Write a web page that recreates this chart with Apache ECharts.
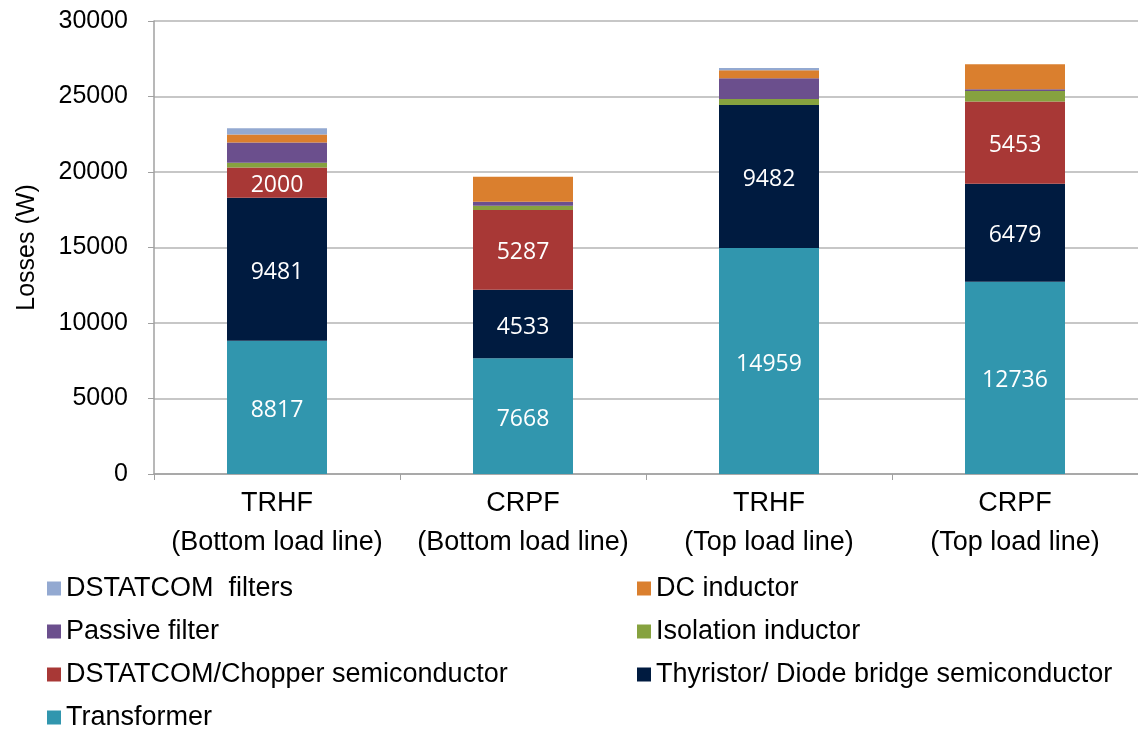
<!DOCTYPE html>
<html>
<head>
<meta charset="utf-8">
<script src="https://cdn.jsdelivr.net/npm/echarts@6/dist/echarts.min.js"></script>
<style>
  html, body { margin: 0; padding: 0; background: #fff; }
  #chart { width: 1138px; height: 731px; }
</style>
</head>
<body>
<div id="chart"></div>
<script>
var categories = [
  "TRHF\n(Bottom load line)",
  "CRPF\n(Bottom load line)",
  "TRHF\n(Top load line)",
  "CRPF\n(Top load line)"
];

var transformer = [8817, 7668, 14959, 12736];
var thyristor = [9481, 4533, 9482, 6479];
var chopper = [2000, 5287, 0, 5453];
var isolation = [310, 285, 400, 700];
var passive = [1340, 265, 1360, 115];
var dcInductor = [530, 1655, 530, 1655];
var dstatcomFilters = [425, 0, 160, 0];

var names = {
  transformer: "Transformer",
  thyristor: "Thyristor/ Diode bridge semiconductor",
  chopper: "DSTATCOM/Chopper semiconductor",
  isolation: "Isolation inductor",
  passive: "Passive filter",
  dc: "DC inductor",
  filters: "DSTATCOM  filters"
};

var colors = {
  transformer: "#3196ae",
  thyristor: "#001b40",
  chopper: "#a83836",
  isolation: "#86a23f",
  passive: "#6b4f8d",
  dc: "#da7f2e",
  filters: "#93a9d1"
};

var font = "Liberation Sans, Arial, sans-serif";

var labelOpt = {
  show: true,
  position: "inside",
  offset: [0, 3],
  color: "#fff",
  fontFamily: "Open Sans, sans-serif",
  fontSize: 23,
  formatter: function (p) { return p.value > 0 ? p.value : ""; }
};

function bar(key, data, withLabel) {
  return {
    name: names[key],
    type: "bar",
    stack: "losses",
    barWidth: 100,
    data: data,
    itemStyle: { color: colors[key] },
    label: withLabel ? labelOpt : { show: false },
    emphasis: { disabled: true }
  };
}

var chart = echarts.init(document.getElementById("chart"));

var legendText = { fontFamily: font, fontSize: 27, color: "#000" };

chart.setOption({
  animation: false,
  grid: { left: 154, right: -4, top: 21, bottom: 257, containLabel: false },
  legend: [
    {
      orient: "vertical",
      left: 42,
      top: 570,
      height: 170,
      itemWidth: 14,
      itemHeight: 14,
      itemGap: 16,
      icon: "rect",
      selectedMode: false,
      textStyle: legendText,
      data: [names.filters, names.passive, names.chopper, names.transformer]
    },
    {
      orient: "vertical",
      left: 632,
      top: 570,
      height: 170,
      itemWidth: 14,
      itemHeight: 14,
      itemGap: 16,
      icon: "rect",
      selectedMode: false,
      textStyle: legendText,
      data: [names.dc, names.isolation, names.thyristor]
    }
  ],
  xAxis: {
    type: "category",
    data: categories,
    axisLine: { lineStyle: { color: "#a0a0a0", width: 1.5 } },
    axisTick: { show: true, length: 6, lineStyle: { color: "#a0a0a0" } },
    axisLabel: {
      color: "#000",
      fontFamily: font,
      fontSize: 27,
      lineHeight: 39,
      margin: 10,
      interval: 0
    }
  },
  yAxis: {
    type: "value",
    min: 0,
    max: 30000,
    interval: 5000,
    name: "Losses (W)",
    nameLocation: "middle",
    nameGap: 114,
    nameTextStyle: { color: "#000", fontFamily: font, fontSize: 25 },
    axisLine: { show: true, lineStyle: { color: "#a0a0a0", width: 1.5 } },
    axisTick: { show: true, length: 6, lineStyle: { color: "#a0a0a0" } },
    axisLabel: {
      color: "#000",
      fontFamily: font,
      fontSize: 25,
      margin: 26,
      formatter: function (v) { return String(v); }
    },
    splitLine: { show: true, lineStyle: { color: "#b4b4b4", width: 1.5 } }
  },
  series: [
    bar("transformer", transformer, true),
    bar("thyristor", thyristor, true),
    bar("chopper", chopper, true),
    bar("isolation", isolation, false),
    bar("passive", passive, false),
    bar("dc", dcInductor, false),
    bar("filters", dstatcomFilters, false)
  ]
});
</script>
</body>
</html>
